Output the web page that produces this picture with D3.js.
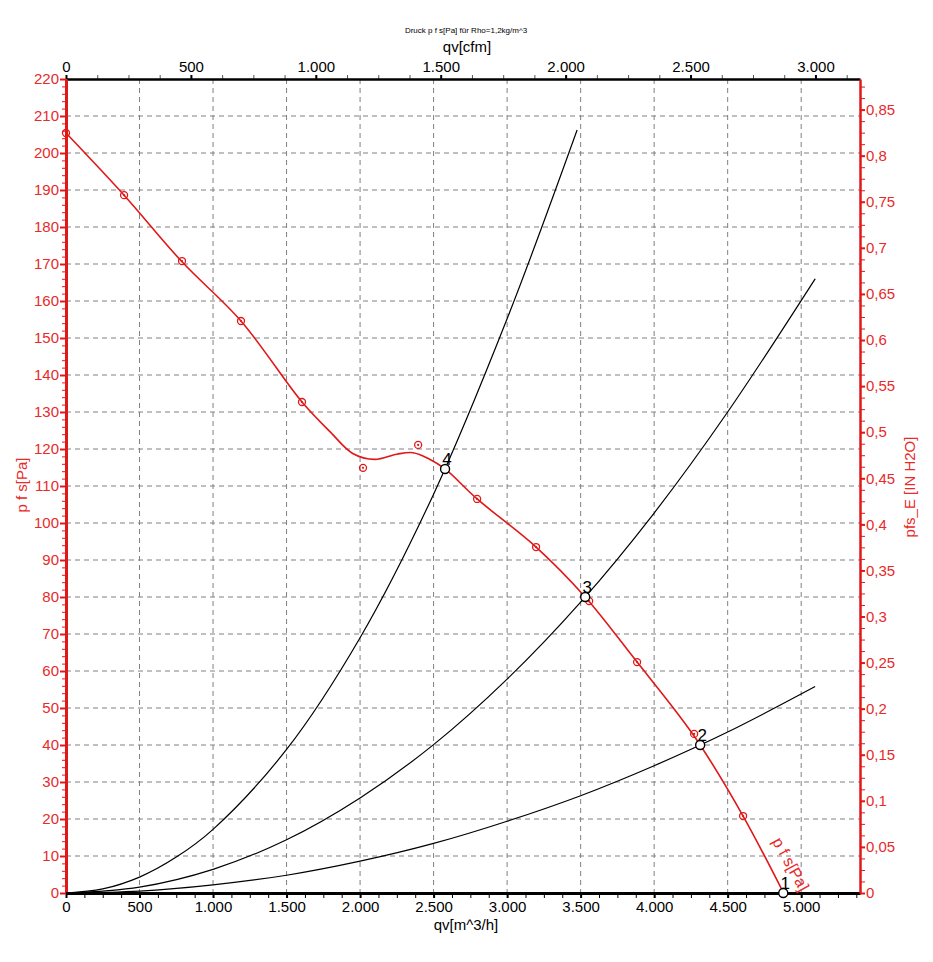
<!DOCTYPE html>
<html>
<head>
<meta charset="utf-8">
<script src="https://cdn.jsdelivr.net/npm/d3@7"></script>
<style>
  body { margin: 0; background: #fff; }
  text { font-family: "Liberation Sans", Arial, sans-serif; }
</style>
</head>
<body>
<div id="chart"></div>
<script>
// fan curve p f s [Pa] over qv [m^3/h]
const fanCurve = [[0, 205.4], [395, 188.6], [789, 170.6], [1190, 154.6], [1605, 132.7], [1800, 124.5], [1950, 118.8],
  [2100, 117.2], [2250, 118.6], [2360, 119], [2470, 117.3], [2578, 114.6], [2796, 106.5], [3197, 93.5], [3531, 80],
  [3884, 62.4], [4150, 49], [4313, 40], [4605, 20.8], [4880, 0]];
// measured points (red markers)
const measured = [[395, 188.6], [789, 170.8], [1190, 154.6], [1605, 132.7], [2020, 114.9], [2395, 121.1], [2796, 106.5],
  [3197, 93.5], [3558, 78.9], [3884, 62.4], [4272, 43.0], [4605, 20.8]];
// system curves (black)
const system4 = [[0, 0], [250, 1.1], [500, 4.3], [750, 9.7], [1000, 17.2], [1500, 38.8], [2000, 69], [2500, 107.8], [3000, 155.2], [3476, 206.2]];
const system3 = [[0, 0], [500, 1.6], [1000, 6.4], [1500, 14.4], [2000, 25.7], [2500, 40.1], [3000, 57.8], [3500, 78.6], [4000, 102.7], [4500, 130], [5095, 166]];
const system2 = [[0, 0], [500, 0.5], [1000, 2.2], [1500, 4.8], [2000, 8.6], [2500, 13.4], [3000, 19.4], [3500, 26.3], [4000, 34.4], [4500, 43.5], [5095, 55.8]];
// operating points
const opPoints = [{ id: "1", q: 4878, p: 0 }, { id: "2", q: 4313, p: 40 }, { id: "3", q: 3531, p: 80 }, { id: "4", q: 2578, p: 114.6 }];

const qvTicks = [0, 500, 1000, 1500, 2000, 2500, 3000, 3500, 4000, 4500, 5000];
const cfmTicks = [0, 500, 1000, 1500, 2000, 2500, 3000];
const paTicks = d3.range(0, 221, 10);
const inTicks = d3.range(0, 0.851, 0.05).map(v => +v.toFixed(2));

const W = 933, H = 962;
const margin = { left: 66, right: 860, top: 79, bottom: 893 };
const red = "#e01818", redText = "#e82a2a";

const de = d3.formatLocale({ decimal: ",", thousands: ".", grouping: [3], currency: ["", " €"] });
const fmtInt = de.format(",");
const fmtDec = de.format(".2~f");

const x = d3.scaleLinear().domain([0, 5400]).range([margin.left, margin.right]);
const xCfm = d3.scaleLinear().domain([0, 5400 / 1.699]).range([margin.left, margin.right]);
const y = d3.scaleLinear().domain([0, 220]).range([margin.bottom, margin.top]);
const yIn = d3.scaleLinear().domain([0, 220 / 249.089]).range([margin.bottom, margin.top]);

const svg = d3.select("#chart").append("svg")
  .attr("width", W).attr("height", H);

// grid
const grid = svg.append("g").attr("stroke", "#808080").attr("stroke-dasharray", "5,4").attr("stroke-width", 1);
qvTicks.filter(d => d > 0).forEach(d => {
  grid.append("line").attr("x1", x(d)).attr("x2", x(d)).attr("y1", margin.top).attr("y2", margin.bottom);
});
paTicks.filter(d => d > 0 && d < 220).forEach(d => {
  grid.append("line").attr("x1", margin.left).attr("x2", margin.right).attr("y1", y(d)).attr("y2", y(d));
});

// minor ticks
function minor(axis, values, size, color, tr) {
  svg.append("g").attr("transform", tr)
    .call(axis.tickValues(values).tickSize(size).tickFormat(""))
    .call(g => g.select(".domain").remove())
    .call(g => g.selectAll("line").attr("stroke", color).attr("stroke-width", 1));
}
minor(d3.axisBottom(x), d3.range(0, 5401, 125), 5, "#000", `translate(0,${margin.bottom})`);
minor(d3.axisTop(xCfm), d3.range(0, 3176, 125), 4, "#555", `translate(0,${margin.top})`);
minor(d3.axisLeft(y), d3.range(0, 221, 2), 4, red, `translate(${margin.left},0)`);
minor(d3.axisRight(yIn), d3.range(0, 0.88, 0.0125), 5, red, `translate(${margin.right},0)`);

// major axes
function styleAxis(g, color, textColor, width) {
  g.select(".domain").attr("stroke", color).attr("stroke-width", width);
  g.selectAll(".tick line").attr("stroke", color).attr("stroke-width", 2);
  g.selectAll(".tick text").attr("fill", textColor).style("font-size", "15px").style("font-family", "Liberation Sans, Arial, sans-serif");
}
svg.append("g").attr("transform", `translate(0,${margin.bottom})`)
  .call(d3.axisBottom(x).tickValues(qvTicks).tickSize(5).tickSizeOuter(0).tickPadding(3).tickFormat(fmtInt))
  .call(g => styleAxis(g, "#000", "#000", 3));
svg.append("g").attr("transform", `translate(0,${margin.top})`)
  .call(d3.axisTop(xCfm).tickValues(cfmTicks).tickSize(4).tickSizeOuter(0).tickPadding(3).tickFormat(fmtInt))
  .call(g => styleAxis(g, "#000", "#000", 2.5));
svg.append("g").attr("transform", `translate(${margin.left},0)`)
  .call(d3.axisLeft(y).tickValues(paTicks).tickSize(6).tickSizeOuter(0).tickPadding(1))
  .call(g => styleAxis(g, red, redText, 3));
svg.append("g").attr("transform", `translate(${margin.right},0)`)
  .call(d3.axisRight(yIn).tickValues(inTicks).tickSize(5).tickSizeOuter(0).tickPadding(1).tickFormat(fmtDec))
  .call(g => styleAxis(g, red, redText, 2.5));

// axis titles
svg.append("text").attr("x", 466).attr("y", 33).attr("text-anchor", "middle")
  .style("font-size", "8px").text("Druck p f s[Pa] für Rho=1,2kg/m^3");
svg.append("text").attr("x", 467).attr("y", 52).attr("text-anchor", "middle")
  .style("font-size", "15px").text("qv[cfm]");
svg.append("text").attr("x", 466).attr("y", 930).attr("text-anchor", "middle")
  .style("font-size", "15px").text("qv[m^3/h]");
svg.append("text").attr("transform", "translate(27,485) rotate(-90)").attr("text-anchor", "middle")
  .attr("fill", redText).style("font-size", "15px").text("p f s[Pa]");
svg.append("text").attr("transform", "translate(915,487) rotate(-90)").attr("text-anchor", "middle")
  .attr("fill", redText).style("font-size", "15px").text("pfs_E [IN H2O]");

// system curves
const smooth = d3.line().x(d => x(d[0])).y(d => y(d[1])).curve(d3.curveCatmullRom.alpha(0.5));
[system4, system3, system2].forEach(s => {
  svg.append("path").datum(s).attr("d", smooth).attr("fill", "none").attr("stroke", "#000").attr("stroke-width", 1.2);
});

// fan curve
svg.append("path").datum(fanCurve).attr("d", smooth)
  .attr("fill", "none").attr("stroke", red).attr("stroke-width", 1.6);

// measured markers
const mk = svg.append("g").selectAll("g").data(measured).join("g")
  .attr("transform", d => `translate(${x(d[0])},${y(d[1])})`);
mk.append("circle").attr("r", 3.5).attr("fill", "none").attr("stroke", red).attr("stroke-width", 1.3);
mk.append("circle").attr("r", 1.1).attr("fill", red);

// start marker on the axis
svg.append("circle").attr("cx", x(fanCurve[0][0])).attr("cy", y(fanCurve[0][1])).attr("r", 3.5)
  .attr("fill", "none").attr("stroke", red).attr("stroke-width", 1.3);

// operating points
const op = svg.append("g").selectAll("g").data(opPoints).join("g")
  .attr("transform", d => `translate(${x(d.q)},${y(d.p)})`);
op.append("circle").attr("r", 4.5).attr("fill", "#fff").attr("stroke", "#000").attr("stroke-width", 1.4);
op.append("text").attr("x", 2).attr("y", -4).attr("text-anchor", "middle")
  .style("font-size", "17px").attr("fill", "#000").text(d => d.id);

// curve label
svg.append("text").attr("transform", `translate(${x(4800)},${y(14)}) rotate(61)`)
  .attr("fill", redText).style("font-size", "16px").text("p f s[Pa]");
</script>
</body>
</html>
